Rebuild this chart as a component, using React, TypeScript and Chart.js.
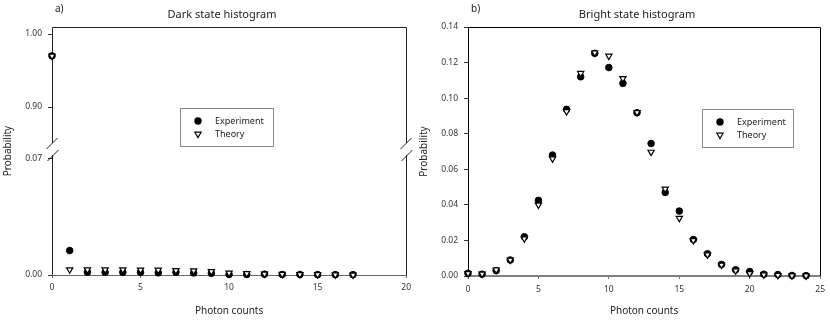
import React, { useEffect, useRef } from 'react';
import { Chart, registerables } from 'chart.js';

Chart.register(...registerables);

const FONT = "'Noto Sans', 'DejaVu Sans', sans-serif";

// ---------- Data: dark state ----------
const darkCounts = [0, 1, 2, 3, 4, 5, 6, 7, 8, 9, 10, 11, 12, 13, 14, 15, 16, 17];
const darkExperiment = [0.970, 0.0147, 0.0017, 0.0016, 0.0016, 0.0016, 0.0013, 0.0017, 0.0012, 0.0010, 0.0003, 0.0003, 0.0005, 0.0003, 0.0003, 0.0002, 0.0002, 0.0002];
const darkTheory = [0.970, 0.0032, 0.0032, 0.0032, 0.0032, 0.0031, 0.0030, 0.0028, 0.0026, 0.0022, 0.0013, 0.0009, 0.0007, 0.0005, 0.0004, 0.0003, 0.0002, 0.0001];
const darkXTicks = [0, 5, 10, 15, 20];
const darkUpperTicks = [0.9, 1.0];
const darkLowerTicks = [0.0, 0.07];
const darkUpperRange = [0.8425, 1.0096];
const darkLowerRange = [0, 0.0758];
const darkSplit = 0.5;

// ---------- Data: bright state ----------
const brightCounts = [0, 1, 2, 3, 4, 5, 6, 7, 8, 9, 10, 11, 12, 13, 14, 15, 16, 17, 18, 19, 20, 21, 22, 23, 24];
const brightExperiment = [0.0015, 0.0010, 0.0030, 0.0090, 0.0220, 0.0425, 0.0680, 0.0937, 0.1120, 0.1252, 0.1172, 0.1083, 0.0918, 0.0745, 0.0470, 0.0365, 0.0205, 0.0125, 0.0065, 0.0035, 0.0025, 0.0010, 0.0008, 0.0003, 0.0002];
const brightTheory = [0.0015, 0.0012, 0.0035, 0.0090, 0.0210, 0.0400, 0.0660, 0.0925, 0.1140, 0.1255, 0.1237, 0.1111, 0.0920, 0.0697, 0.0490, 0.0325, 0.0200, 0.0120, 0.0062, 0.0030, 0.0015, 0.0008, 0.0004, 0.0002, 0.0001];
const brightXTicks = [0, 5, 10, 15, 20, 25];
const brightYTicks = [0.0, 0.02, 0.04, 0.06, 0.08, 0.10, 0.12, 0.14];

const seriesNames = ['Experiment', 'Theory'];

const expStyle = {
  pointStyle: 'circle',
  pointRadius: 3.3,
  pointBackgroundColor: '#000',
  pointBorderColor: '#000',
  pointBorderWidth: 1,
  showLine: false,
  clip: false,
  order: 1,
};
const thStyle = {
  pointStyle: 'triangle',
  pointRotation: 180,
  pointRadius: 3.6,
  pointBackgroundColor: '#fff',
  pointBorderColor: '#000',
  pointBorderWidth: 1.2,
  showLine: false,
  clip: false,
  order: 0,
};

function drawLegend(ctx: CanvasRenderingContext2D, x: number, y: number, w: number, h: number) {
  ctx.save();
  ctx.strokeStyle = '#8a8a8a';
  ctx.lineWidth = 1;
  ctx.strokeRect(Math.round(x) + 0.5, Math.round(y) + 0.5, w, h);
  const mx = x + 18;
  const r1 = y + 13;
  const r2 = y + 26;
  ctx.fillStyle = '#000';
  ctx.beginPath();
  ctx.arc(mx, r1, 3.7, 0, Math.PI * 2);
  ctx.fill();
  const r = 3.6;
  const s = r * Math.sin(Math.PI / 3);
  ctx.beginPath();
  ctx.moveTo(mx, r2 + r);
  ctx.lineTo(mx - s, r2 - r / 2);
  ctx.lineTo(mx + s, r2 - r / 2);
  ctx.closePath();
  ctx.fillStyle = '#fff';
  ctx.fill();
  ctx.strokeStyle = '#000';
  ctx.lineWidth = 1.2;
  ctx.stroke();
  ctx.fillStyle = '#222';
  ctx.font = `9px ${FONT}`;
  ctx.textAlign = 'left';
  ctx.textBaseline = 'middle';
  ctx.fillText(seriesNames[0], x + 35, r1);
  ctx.fillText(seriesNames[1], x + 35, r2);
  ctx.restore();
}

function drawTitles(ctx: CanvasRenderingContext2D, ca: any, panel: string, title: string) {
  ctx.save();
  ctx.fillStyle = '#222';
  ctx.textBaseline = 'middle';
  ctx.font = `10px ${FONT}`;
  ctx.textAlign = 'left';
  ctx.fillText(panel, ca.left + 3, 9);
  ctx.font = `11px ${FONT}`;
  ctx.textAlign = 'center';
  ctx.fillText(title, (ca.left + ca.right) / 2 - 7, 15);
  ctx.restore();
}

const tickFont = { size: 8.5, family: FONT };
const fmt = (v: any) => Number(v).toFixed(2);

function DarkChart() {
  const ref = useRef<HTMLCanvasElement>(null);
  useEffect(() => {
    const pts = (vals: number[]) => darkCounts.map((x, i) => ({ x, y: vals[i] }));
    const expPts = pts(darkExperiment);
    const thPts = pts(darkTheory);
    const decor = {
      id: 'darkDecor',
      beforeDatasetsDraw(chart: any) {
        const { ctx, chartArea: ca } = chart;
        const yb = chart.scales.yTop.bottom;
        const L = Math.round(ca.left) + 0.5;
        const R = Math.round(ca.right) + 0.5;
        const T = Math.round(ca.top) + 0.5;
        const upEnd = yb - 6;
        const loStart = yb + 6;
        ctx.save();
        ctx.lineWidth = 1;
        ctx.strokeStyle = '#222';
        ctx.beginPath();
        ctx.moveTo(L, upEnd);
        ctx.lineTo(L, T);
        ctx.lineTo(R, T);
        ctx.lineTo(R, upEnd);
        ctx.moveTo(L, loStart);
        ctx.lineTo(L, ca.bottom);
        ctx.moveTo(R, loStart);
        ctx.lineTo(R, ca.bottom);
        for (const x of [L, R]) {
          ctx.moveTo(x - 6, upEnd + 6);
          ctx.lineTo(x + 5, upEnd - 5);
          ctx.moveTo(x - 5, loStart + 6);
          ctx.lineTo(x + 6, loStart - 5);
        }
        ctx.stroke();
        ctx.restore();
      },
      afterDraw(chart: any) {
        const { ctx, chartArea: ca } = chart;
        drawTitles(ctx, ca, 'a)', 'Dark state histogram');
        drawLegend(ctx, ca.left + 128, ca.top + 81, 93, 38);
        ctx.save();
        ctx.fillStyle = '#222';
        ctx.font = `10px ${FONT}`;
        ctx.textAlign = 'center';
        ctx.textBaseline = 'middle';
        ctx.translate(8, (ca.top + ca.bottom) / 2);
        ctx.rotate(-Math.PI / 2);
        ctx.fillText('Probability', 0, 0);
        ctx.restore();
      },
    };
    const yCommon = (range: number[], ticks: number[], stackW: number, w: number) => ({
      type: 'linear',
      position: 'left',
      stack: 'dark',
      stackWeight: stackW,
      weight: w,
      min: range[0],
      max: range[1],
      afterFit: (s: any) => { s.width = 52; },
      afterBuildTicks: (s: any) => { s.ticks = ticks.map((v) => ({ value: v })); },
      grid: { drawOnChartArea: false, drawTicks: true, tickLength: 4, color: '#333' },
      border: { display: false },
      ticks: { color: '#333', font: tickFont, padding: 6, callback: fmt },
    });
    const chart = new Chart(ref.current as HTMLCanvasElement, {
      type: 'scatter',
      data: {
        datasets: [
          { label: seriesNames[0], data: expPts.filter((p) => p.y >= darkSplit), xAxisID: 'x', yAxisID: 'yTop', ...expStyle },
          { label: seriesNames[0], data: expPts.filter((p) => p.y < darkSplit), xAxisID: 'x', yAxisID: 'yBot', ...expStyle },
          { label: seriesNames[1], data: thPts.filter((p) => p.y >= darkSplit), xAxisID: 'x', yAxisID: 'yTop', ...thStyle },
          { label: seriesNames[1], data: thPts.filter((p) => p.y < darkSplit), xAxisID: 'x', yAxisID: 'yBot', ...thStyle },
        ] as any,
      },
      options: {
        responsive: false,
        animation: false,
        layout: { padding: { top: 27, right: 8, left: 0, bottom: 0 } },
        plugins: { legend: { display: false }, tooltip: { enabled: false }, title: { display: false } },
        scales: {
          x: {
            type: 'linear',
            position: 'bottom',
            min: 0,
            max: 20,
            afterFit: (s: any) => { s.height = 46; },
            afterBuildTicks: (s: any) => { s.ticks = darkXTicks.map((v) => ({ value: v })); },
            grid: { drawOnChartArea: false, drawTicks: true, tickLength: 3, color: '#666' },
            border: { display: true, color: '#666', width: 1 },
            ticks: { color: '#333', font: tickFont, padding: 4, maxRotation: 0 },
            title: { display: true, text: 'Photon counts', color: '#222', font: { size: 10, family: FONT }, padding: { top: 0, bottom: 4 } },
          },
          yTop: yCommon(darkUpperRange, darkUpperTicks, 122, 1),
          yBot: yCommon(darkLowerRange, darkLowerTicks, 126, 0),
        } as any,
      },
      plugins: [decor],
    } as any);
    return () => chart.destroy();
  }, []);
  return <canvas ref={ref} width={415} height={321} style={{ position: 'absolute', left: 0, top: 0, width: 415, height: 321 }} />;
}

function BrightChart() {
  const ref = useRef<HTMLCanvasElement>(null);
  useEffect(() => {
    const pts = (vals: number[]) => brightCounts.map((x, i) => ({ x, y: vals[i] }));
    const decor = {
      id: 'brightDecor',
      beforeDatasetsDraw(chart: any) {
        const { ctx, chartArea: ca } = chart;
        const L = Math.round(ca.left) + 0.5;
        const R = Math.round(ca.right) + 0.5;
        const T = Math.round(ca.top) + 0.5;
        ctx.save();
        ctx.lineWidth = 1;
        ctx.strokeStyle = '#000';
        ctx.beginPath();
        ctx.moveTo(L, T);
        ctx.lineTo(R, T);
        ctx.lineTo(R, ca.bottom);
        ctx.stroke();
        ctx.restore();
      },
      afterDraw(chart: any) {
        const { ctx, chartArea: ca } = chart;
        drawTitles(ctx, ca, 'b)', 'Bright state histogram');
        drawLegend(ctx, ca.left + 234, ca.top + 82, 91, 38);
      },
    };
    const chart = new Chart(ref.current as HTMLCanvasElement, {
      type: 'scatter',
      data: {
        datasets: [
          { label: seriesNames[0], data: pts(brightExperiment), ...expStyle },
          { label: seriesNames[1], data: pts(brightTheory), ...thStyle },
        ] as any,
      },
      options: {
        responsive: false,
        animation: false,
        layout: { padding: { top: 27, right: 8, left: 0, bottom: 0 } },
        plugins: { legend: { display: false }, tooltip: { enabled: false }, title: { display: false } },
        scales: {
          x: {
            type: 'linear',
            position: 'bottom',
            min: 0,
            max: 25,
            afterFit: (s: any) => { s.height = 45; },
            afterBuildTicks: (s: any) => { s.ticks = brightXTicks.map((v) => ({ value: v })); },
            grid: { drawOnChartArea: false, drawTicks: true, tickLength: 3, color: '#777' },
            border: { display: true, color: '#808080', width: 2 },
            ticks: { color: '#333', font: tickFont, padding: 5, maxRotation: 0 },
            title: { display: true, text: 'Photon counts', color: '#222', font: { size: 10, family: FONT }, padding: { top: 0, bottom: 4 } },
          },
          y: {
            type: 'linear',
            position: 'left',
            min: 0,
            max: 0.14,
            afterFit: (s: any) => { s.width = 53; },
            afterBuildTicks: (s: any) => { s.ticks = brightYTicks.map((v) => ({ value: v })); },
            grid: { drawOnChartArea: false, drawTicks: true, tickLength: 4, color: '#333' },
            border: { display: true, color: '#000', width: 1 },
            ticks: { color: '#333', font: tickFont, padding: 6, callback: fmt },
            title: { display: true, text: 'Probability', color: '#222', font: { size: 10, family: FONT }, padding: { top: 3, bottom: 0 } },
          },
        } as any,
      },
      plugins: [decor],
    } as any);
    return () => chart.destroy();
  }, []);
  return <canvas ref={ref} width={415} height={321} style={{ position: 'absolute', left: 415, top: 0, width: 415, height: 321 }} />;
}

export default function App() {
  return (
    <div style={{ position: 'absolute', left: 0, top: 0, width: 830, height: 321, background: '#fff' }}>
      <DarkChart />
      <BrightChart />
    </div>
  );
}
